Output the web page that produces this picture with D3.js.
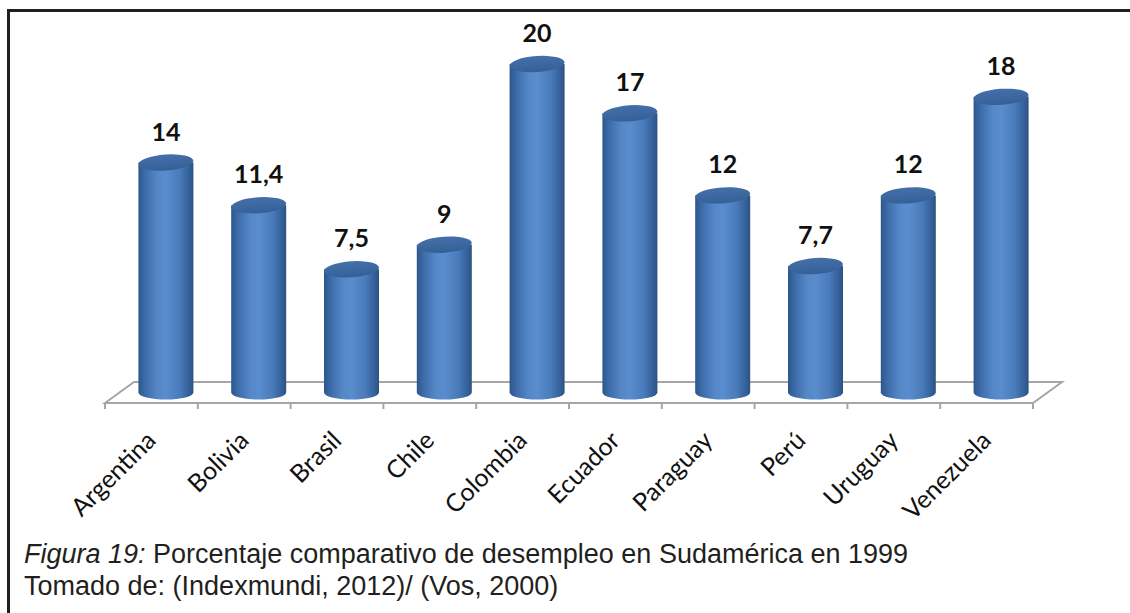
<!DOCTYPE html>
<meta charset="utf-8">
<style>
    html, body { margin: 0; padding: 0; background: #fff; }
</style>
<script src="https://cdnjs.cloudflare.com/ajax/libs/d3/7.8.5/d3.min.js"></script>

<div id="chart"></div>

<script>
    // data
    const paises = ["Argentina", "Bolivia", "Brasil", "Chile", "Colombia", "Ecuador", "Paraguay", "Perú", "Uruguay", "Venezuela"];
    const desempleo = [14, 11.4, 7.5, 9, 20, 17, 12, 7.7, 12, 18];
    const etiquetas = ["14", "11,4", "7,5", "9", "20", "17", "12", "7,7", "12", "18"];

    const W = 1130, H = 613;

    const svg = d3.select("#chart")
      .append("svg")
        .attr("width", W)
        .attr("height", H);

    // frame (top and left edges only)
    svg.append("path")
        .attr("d", "M8.5,613 L8.5,10.5 L1130,10.5")
        .attr("fill", "none")
        .attr("stroke", "#231f20")
        .attr("stroke-width", 3);

    // floor geometry
    const floorFront = 403, dx = 29, dy = -21;

    const x = d3.scaleBand()
        .domain(paises)
        .range([105, 1033])
        .padding(0);

    const baseY = floorFront + dy / 2;
    const y = d3.scaleLinear()
        .domain([0, 20])
        .range([baseY, 64]);

    const defs = svg.append("defs");
    const gBody = defs.append("linearGradient").attr("id", "body")
        .attr("x1", "0%").attr("x2", "100%").attr("y1", "0%").attr("y2", "0%");
    [["0%", "#2d578c"], ["12%", "#3c6ba8"], ["35%", "#5688c8"], ["50%", "#5a8dcd"],
     ["75%", "#4a7bbb"], ["92%", "#35609a"], ["100%", "#2b5283"]]
      .forEach(s => gBody.append("stop").attr("offset", s[0]).attr("stop-color", s[1]));
    const gTop = defs.append("linearGradient").attr("id", "tapa")
        .attr("x1", "0%").attr("x2", "0%").attr("y1", "0%").attr("y2", "100%");
    [["0%", "#4470aa"], ["100%", "#355f96"]]
      .forEach(s => gTop.append("stop").attr("offset", s[0]).attr("stop-color", s[1]));

    // floor
    const floor = svg.append("g")
        .attr("fill", "none")
        .attr("stroke", "#a6a6a6")
        .attr("stroke-width", 2);
    const x0 = x.range()[0], x1 = x.range()[1];
    floor.append("path")
        .attr("d", `M${x0},${floorFront} L${x0 + dx},${floorFront + dy} L${x1 + dx},${floorFront + dy} L${x1},${floorFront} Z`);
    const ticks = paises.map(p => x(p)).concat([x1]);
    floor.selectAll("line.tick")
      .data(ticks)
      .join("line")
        .attr("x1", d => d).attr("x2", d => d)
        .attr("y1", floorFront).attr("y2", floorFront + 6);

    // cylinders
    const rx = 27.5, ryTop = 8, ryBot = 7;
    const cxOf = p => x(p) + x.bandwidth() / 2 + dx / 2;
    const bars = svg.append("g")
      .selectAll("g")
      .data(paises)
      .join("g");

    bars.append("path")
        .attr("fill", "url(#body)")
        .attr("d", (p, i) => {
            const cx = cxOf(p);
            const t = y(desempleo[i]), b = y(0);
            return `M${cx - rx},${t} L${cx - rx},${b} A${rx},${ryBot} 0 0 0 ${cx + rx},${b} L${cx + rx},${t} Z`;
        });

    bars.append("ellipse")
        .attr("fill", "url(#tapa)")
        .attr("cx", p => cxOf(p))
        .attr("cy", (p, i) => y(desempleo[i]))
        .attr("rx", rx)
        .attr("ry", ryTop)
        .attr("transform", (p, i) => `rotate(-4,${cxOf(p)},${y(desempleo[i])})`);

    // value labels
    bars.append("text")
        .attr("x", p => cxOf(p))
        .attr("y", (p, i) => y(desempleo[i]) - 22)
        .attr("text-anchor", "middle")
        .style("font-family", "Lato")
        .style("font-weight", "bold")
        .style("font-size", "25px")
        .attr("fill", "#111")
        .text((p, i) => etiquetas[i]);

    // category labels
    svg.append("g")
      .selectAll("text")
      .data(paises)
      .join("text")
        .attr("transform", p => `translate(${x(p) + x.bandwidth() / 2 + 6},${floorFront + 39}) rotate(-45)`)
        .attr("text-anchor", "end")
        .style("font-family", "Lato")
        .style("font-size", "25px")
        .attr("fill", "#111")
        .text(p => p);

    // caption
    const cap = svg.append("g")
        .style("font-family", "Liberation Sans, Arial, sans-serif")
        .style("font-size", "27px")
        .attr("fill", "#231f20");
    const l1 = cap.append("text").attr("x", 24).attr("y", 563);
    l1.append("tspan").style("font-style", "italic").text("Figura 19:");
    l1.append("tspan").text(" Porcentaje comparativo de desempleo en Sudamérica en 1999");
    cap.append("text").attr("x", 24).attr("y", 595)
        .text("Tomado de: (Indexmundi, 2012)/ (Vos, 2000)");
</script>
